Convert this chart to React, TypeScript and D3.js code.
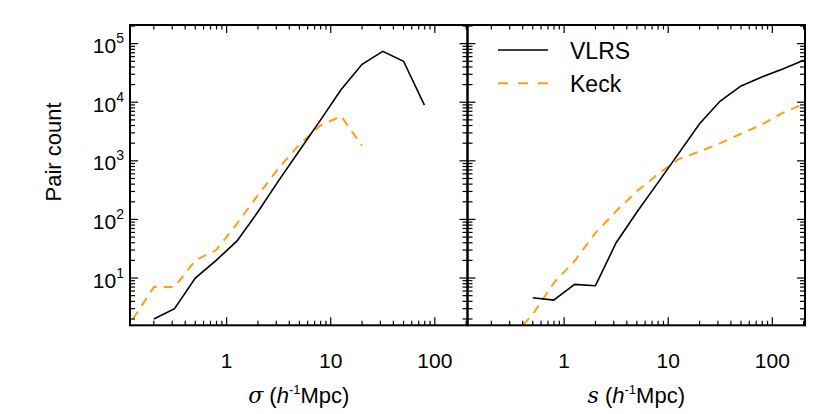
import React from 'react';
import * as d3 from 'd3';

// bin centres, 0.2 dex apart
const sigmaVlrs = [0.2, 0.316, 0.5, 0.794, 1.26, 2, 3.16, 5.01, 7.94, 12.6, 20, 31.6, 50.1, 79.4];
const countSigmaVlrs = [2, 3, 10, 20, 43, 135, 460, 1500, 4900, 16500, 44500, 74000, 50000, 8900];
const sigmaKeck = [0.126, 0.2, 0.316, 0.5, 0.794, 1.26, 2, 3.16, 5.01, 7.94, 12.6, 20];
const countSigmaKeck = [2, 7, 7, 20, 30, 85, 260, 750, 1900, 4000, 5800, 1800];

const sVlrs = [0.5, 0.794, 1.26, 2, 3.16, 5.01, 7.94, 12.6, 20, 31.6, 50.1, 79.4, 126, 200];
const countSVlrs = [4.6, 4.2, 7.8, 7.4, 40, 134, 420, 1340, 4300, 10500, 19000, 27000, 37000, 52000];
const sKeck = [0.316, 0.5, 0.794, 1.26, 2, 3.16, 5.01, 7.94, 12.6, 20, 31.6, 50.1, 79.4, 126, 200];
const countSKeck = [1, 2.4, 8.2, 19.5, 59, 138, 305, 590, 1070, 1440, 2000, 2900, 4170, 6600, 9300];

const xMajor = [1, 10, 100];
const yExponents = [1, 2, 3, 4, 5];
const seriesNames = ['VLRS', 'Keck'];

const font = '"Liberation Sans", Arial, Helvetica, sans-serif';
const orange = '#ff9e10';
const top = 25;
const bottom = 325.3;

const y = d3.scaleLog().domain([1.56, 2.08e5]).range([bottom, top]);

function minorTicks(lo: number, hi: number) {
  const out: number[] = [];
  for (let e = -2; e <= 6; e++) {
    for (let m = 1; m < 10; m++) {
      const v = m * Math.pow(10, e);
      if (v >= lo && v <= hi) out.push(v);
    }
  }
  return out;
}

function Panel({ x0, x1, id, xs1, ys1, xs2, ys2, title, showY, legend }: any) {
  const x = d3.scaleLog().domain([0.118, 206]).range([x0, x1]);
  const line = d3
    .line<[number, number]>()
    .x((d) => x(d[0]))
    .y((d) => y(d[1]));
  const a = xs1.map((v: number, i: number) => [v, ys1[i]] as [number, number]);
  const b = xs2.map((v: number, i: number) => [v, ys2[i]] as [number, number]);
  const xt = minorTicks(0.118, 206);
  const yt = minorTicks(1.56, 2.08e5);
  return (
    <g>
      <defs>
        <clipPath id={id}>
          <rect x={x0} y={top} width={x1 - x0} height={bottom - top} />
        </clipPath>
      </defs>
      <g clipPath={`url(#${id})`}>
        <path d={line(b) || ''} fill="none" stroke={orange} strokeWidth={2} strokeDasharray="9,7" />
        <path d={line(a) || ''} fill="none" stroke="#000" strokeWidth={1.6} />
      </g>
      {xt.map((v) => {
        const big = xMajor.includes(v);
        const len = big ? 8 : 4.5;
        return (
          <g key={'x' + v} stroke="#000" strokeWidth={1.2}>
            <line x1={x(v)} x2={x(v)} y1={bottom} y2={bottom - len} />
            <line x1={x(v)} x2={x(v)} y1={top} y2={top + len} />
          </g>
        );
      })}
      {yt.map((v) => {
        const big = Math.abs(Math.log10(v) - Math.round(Math.log10(v))) < 1e-9;
        const len = big ? 8 : 5;
        return (
          <g key={'y' + v} stroke="#000" strokeWidth={1.2}>
            <line x1={x0} x2={x0 + len} y1={y(v)} y2={y(v)} />
            <line x1={x1} x2={x1 - len} y1={y(v)} y2={y(v)} />
          </g>
        );
      })}
      <rect x={x0} y={top} width={x1 - x0} height={bottom - top} fill="none" stroke="#000" strokeWidth={2} />
      {xMajor.map((v) => (
        <text key={'xl' + v} x={x(v)} y={368} textAnchor="middle" fontSize={21} fontFamily={font}>
          {v}
        </text>
      ))}
      {showY &&
        yExponents.map((e) => (
          <text key={'yl' + e} x={124} y={y(Math.pow(10, e)) + 9.5} textAnchor="end" fontSize={21} fontFamily={font}>
            <tspan>10</tspan>
            <tspan fontSize={14} dy={-10}>
              {e}
            </tspan>
          </text>
        ))}
      <text x={(x0 + x1) / 2} y={402.5} textAnchor="middle" fontSize={22} fontFamily={font}>
        <tspan fontStyle="italic" fontFamily="'DejaVu Serif', serif">{title}</tspan>
        <tspan> (</tspan>
        <tspan fontStyle="italic">h</tspan>
        <tspan fontSize={13} dy={-9}>-1</tspan>
        <tspan dy={9}>Mpc)</tspan>
      </text>
      {legend && (
        <g>
          <line x1={498} x2={548} y1={50} y2={50} stroke="#000" strokeWidth={1.6} />
          <line x1={498} x2={548} y1={83.3} y2={83.3} stroke={orange} strokeWidth={2} strokeDasharray="10,10" />
          <text x={570} y={59} fontSize={23} fontFamily={font}>
            {seriesNames[0]}
          </text>
          <text x={570} y={92} fontSize={23} fontFamily={font}>
            {seriesNames[1]}
          </text>
        </g>
      )}
    </g>
  );
}

export default function App() {
  return (
    <svg width={830} height={414} style={{ position: 'absolute', left: 0, top: 0, background: '#fff' }}>
      <Panel
        x0={130}
        x1={467.5}
        id="clipL"
        xs1={sigmaVlrs}
        ys1={countSigmaVlrs}
        xs2={sigmaKeck}
        ys2={countSigmaKeck}
        title="σ"
        showY
      />
      <Panel
        x0={467.5}
        x1={805}
        id="clipR"
        xs1={sVlrs}
        ys1={countSVlrs}
        xs2={sKeck}
        ys2={countSKeck}
        title="s"
        legend
      />
      <text
        transform="translate(61,152) rotate(-90)"
        textAnchor="middle"
        fontSize={22}
        fontFamily={font}
      >
        Pair count
      </text>
    </svg>
  );
}
